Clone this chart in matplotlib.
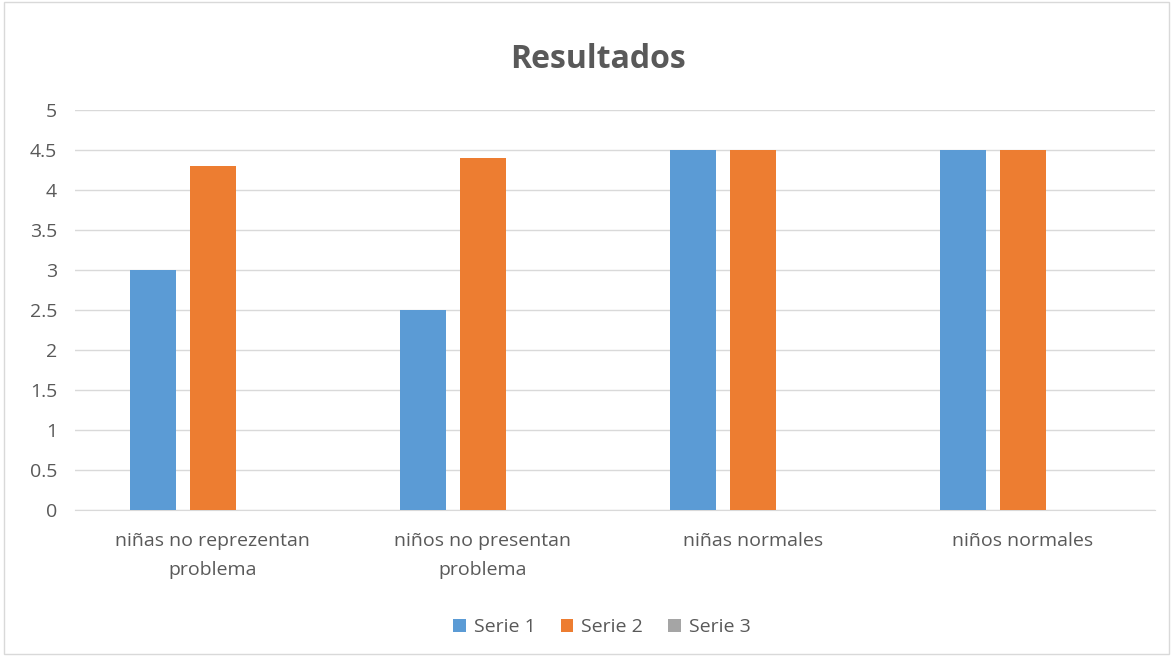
import matplotlib.pyplot as plt
import numpy as np
from matplotlib.patches import Rectangle

categories = ['niñas no reprezentan\nproblema', 'niños no presentan\nproblema',
              'niñas normales', 'niños normales']
serie1 = [3.0, 2.5, 4.5, 4.5]
serie2 = [4.3, 4.4, 4.5, 4.5]
serie3 = [0, 0, 0, 0]

plt.rcParams['font.family'] = ['Open Sans', 'DejaVu Sans']
txt = '#595959'

fig = plt.figure(figsize=(11.73, 6.56), dpi=100)
ax = fig.add_axes([75 / 1173, 1 - 510 / 656, (1155 - 75) / 1173, 400 / 656])

x = np.arange(len(categories))
w = 0.17
step = 0.222
ax.bar(x - step, serie1, w, color='#5b9bd5', label='Serie 1', zorder=3)
ax.bar(x, serie2, w, color='#ed7d31', label='Serie 2', zorder=3)
ax.bar(x + step, serie3, w, color='#a5a5a5', label='Serie 3', zorder=3)

ax.set_xlim(-0.51, 3.49)
ax.set_ylim(0, 5)
ax.set_yticks(np.arange(0, 5.01, 0.5))
ax.set_yticklabels(['0', '0.5', '1', '1.5', '2', '2.5', '3', '3.5', '4', '4.5', '5'])
ax.grid(axis='y', color='#d9d9d9', linewidth=1, zorder=0)
ax.set_xticks(x)
ax.set_xticklabels(categories, linespacing=1.75)
ax.tick_params(axis='both', length=0, labelsize=14, colors=txt)
ax.tick_params(axis='x', pad=16)
ax.tick_params(axis='y', pad=13)
for s in ['top', 'right', 'left']:
    ax.spines[s].set_visible(False)
ax.spines['bottom'].set_color('#d9d9d9')

fig.text(598 / 1173, 1 - 60 / 656, 'Resultados', fontsize=23, fontweight='bold',
         color=txt, ha='center', va='center')

leg = fig.legend(loc='center', bbox_to_anchor=(602 / 1173, 1 - 627 / 656), ncol=3,
                 frameon=False, fontsize=14, handlelength=0.65, handleheight=0.65,
                 handletextpad=0.4, columnspacing=1.3)
for t in leg.get_texts():
    t.set_color(txt)

fig.patches.append(Rectangle((0.003, 0.003), 0.994, 0.994, transform=fig.transFigure,
                             fill=False, edgecolor='#d9d9d9', linewidth=1))

fig.savefig('out.png', dpi=100)
